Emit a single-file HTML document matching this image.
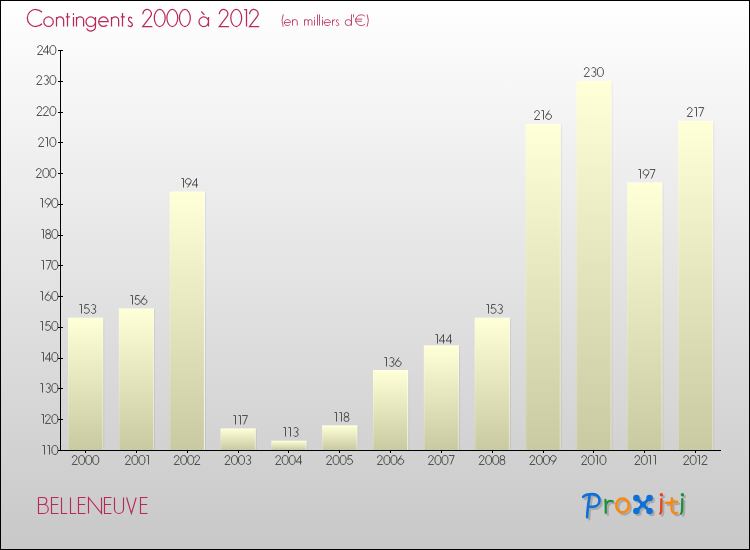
<!DOCTYPE html>
<html lang="fr"><head><meta charset="utf-8"><title>Contingents 2000 à 2012 - BELLENEUVE</title>
<style>
html,body{margin:0;padding:0;background:#fff;font-family:"Liberation Sans",sans-serif;}
.lbl{position:absolute;white-space:nowrap;line-height:1.15;color:rgba(0,0,0,0);font-family:"Liberation Sans",sans-serif;pointer-events:none}
#chart{position:relative;width:750px;height:550px;overflow:hidden;}
</style></head><body><div id="chart">
<svg width="750" height="550" viewBox="0 0 750 550" style="position:absolute;left:0;top:0">
<defs>
<linearGradient id="bg" x1="0" y1="0" x2="0" y2="1"><stop offset="0" stop-color="#ffffff"/><stop offset="1" stop-color="#c8c8c8"/></linearGradient>
<linearGradient id="bar" x1="0" y1="0" x2="0" y2="1"><stop offset="0" stop-color="#ffffd8"/><stop offset="1" stop-color="#c9c9a2"/></linearGradient>
<filter id="sh" x="-20%" y="-20%" width="150%" height="150%"><feGaussianBlur stdDeviation="0.7"/></filter>
</defs>
<rect x="0" y="0" width="750" height="550" fill="url(#bg)"/>
<rect x="103.20" y="318.69" width="1" height="131.31" fill="#000" fill-opacity="0.08"/>
<rect x="68.0" y="317.69" width="35.2" height="132.31" fill="url(#bar)"/>
<rect x="68.0" y="317.69" width="1" height="132.31" fill="#fff" fill-opacity="0.22"/>
<rect x="102.20" y="317.69" width="1" height="132.31" fill="#fff" fill-opacity="0.45"/>
<rect x="69.00" y="317.69" width="33.2" height="1" fill="#fff" fill-opacity="0.3"/>
<rect x="154.03" y="309.46" width="1" height="140.54" fill="#000" fill-opacity="0.08"/>
<rect x="118.83" y="308.46" width="35.2" height="141.54" fill="url(#bar)"/>
<rect x="118.83" y="308.46" width="1" height="141.54" fill="#fff" fill-opacity="0.22"/>
<rect x="153.03" y="308.46" width="1" height="141.54" fill="#fff" fill-opacity="0.45"/>
<rect x="119.83" y="308.46" width="33.2" height="1" fill="#fff" fill-opacity="0.3"/>
<rect x="204.87" y="192.54" width="1" height="257.46" fill="#000" fill-opacity="0.08"/>
<rect x="169.67" y="191.54" width="35.2" height="258.46" fill="url(#bar)"/>
<rect x="169.67" y="191.54" width="1" height="258.46" fill="#fff" fill-opacity="0.22"/>
<rect x="203.87" y="191.54" width="1" height="258.46" fill="#fff" fill-opacity="0.75"/>
<rect x="170.67" y="191.54" width="33.2" height="1" fill="#fff" fill-opacity="0.3"/>
<rect x="255.70" y="429.46" width="1" height="20.54" fill="#000" fill-opacity="0.08"/>
<rect x="220.5" y="428.46" width="35.2" height="21.54" fill="url(#bar)"/>
<rect x="220.5" y="428.46" width="1" height="21.54" fill="#fff" fill-opacity="0.22"/>
<rect x="254.70" y="428.46" width="1" height="21.54" fill="#fff" fill-opacity="0.45"/>
<rect x="221.50" y="428.46" width="33.2" height="1" fill="#fff" fill-opacity="0.3"/>
<rect x="306.53" y="441.77" width="1" height="8.23" fill="#000" fill-opacity="0.08"/>
<rect x="271.33" y="440.77" width="35.2" height="9.23" fill="url(#bar)"/>
<rect x="271.33" y="440.77" width="1" height="9.23" fill="#fff" fill-opacity="0.22"/>
<rect x="305.53" y="440.77" width="1" height="9.23" fill="#fff" fill-opacity="0.45"/>
<rect x="272.33" y="440.77" width="33.2" height="1" fill="#fff" fill-opacity="0.3"/>
<rect x="357.37" y="426.38" width="1" height="23.62" fill="#000" fill-opacity="0.08"/>
<rect x="322.17" y="425.38" width="35.2" height="24.62" fill="url(#bar)"/>
<rect x="322.17" y="425.38" width="1" height="24.62" fill="#fff" fill-opacity="0.22"/>
<rect x="356.37" y="425.38" width="1" height="24.62" fill="#fff" fill-opacity="0.45"/>
<rect x="323.17" y="425.38" width="33.2" height="1" fill="#fff" fill-opacity="0.3"/>
<rect x="408.20" y="371.00" width="1" height="79.00" fill="#000" fill-opacity="0.08"/>
<rect x="373.0" y="370.0" width="35.2" height="80.0" fill="url(#bar)"/>
<rect x="373.0" y="370.0" width="1" height="80.0" fill="#fff" fill-opacity="0.22"/>
<rect x="407.20" y="370.0" width="1" height="80.0" fill="#fff" fill-opacity="0.75"/>
<rect x="374.00" y="370.0" width="33.2" height="1" fill="#fff" fill-opacity="0.3"/>
<rect x="459.03" y="346.38" width="1" height="103.62" fill="#000" fill-opacity="0.08"/>
<rect x="423.83" y="345.38" width="35.2" height="104.62" fill="url(#bar)"/>
<rect x="423.83" y="345.38" width="1" height="104.62" fill="#fff" fill-opacity="0.22"/>
<rect x="458.03" y="345.38" width="1" height="104.62" fill="#fff" fill-opacity="0.45"/>
<rect x="424.83" y="345.38" width="33.2" height="1" fill="#fff" fill-opacity="0.3"/>
<rect x="509.87" y="318.69" width="1" height="131.31" fill="#000" fill-opacity="0.08"/>
<rect x="474.67" y="317.69" width="35.2" height="132.31" fill="url(#bar)"/>
<rect x="474.67" y="317.69" width="1" height="132.31" fill="#fff" fill-opacity="0.22"/>
<rect x="508.87" y="317.69" width="1" height="132.31" fill="#fff" fill-opacity="0.45"/>
<rect x="475.67" y="317.69" width="33.2" height="1" fill="#fff" fill-opacity="0.3"/>
<rect x="560.70" y="124.85" width="1" height="325.15" fill="#000" fill-opacity="0.08"/>
<rect x="525.5" y="123.85" width="35.2" height="326.15" fill="url(#bar)"/>
<rect x="525.5" y="123.85" width="1" height="326.15" fill="#fff" fill-opacity="0.22"/>
<rect x="559.70" y="123.85" width="1" height="326.15" fill="#fff" fill-opacity="0.45"/>
<rect x="526.50" y="123.85" width="33.2" height="1" fill="#fff" fill-opacity="0.3"/>
<rect x="611.53" y="81.77" width="1" height="368.23" fill="#000" fill-opacity="0.08"/>
<rect x="576.33" y="80.77" width="35.2" height="369.23" fill="url(#bar)"/>
<rect x="576.33" y="80.77" width="1" height="369.23" fill="#fff" fill-opacity="0.22"/>
<rect x="610.53" y="80.77" width="1" height="369.23" fill="#fff" fill-opacity="0.45"/>
<rect x="577.33" y="80.77" width="33.2" height="1" fill="#fff" fill-opacity="0.3"/>
<rect x="662.37" y="183.31" width="1" height="266.69" fill="#000" fill-opacity="0.08"/>
<rect x="627.17" y="182.31" width="35.2" height="267.69" fill="url(#bar)"/>
<rect x="627.17" y="182.31" width="1" height="267.69" fill="#fff" fill-opacity="0.22"/>
<rect x="661.37" y="182.31" width="1" height="267.69" fill="#fff" fill-opacity="0.45"/>
<rect x="628.17" y="182.31" width="33.2" height="1" fill="#fff" fill-opacity="0.3"/>
<rect x="713.20" y="121.77" width="1" height="328.23" fill="#000" fill-opacity="0.08"/>
<rect x="678.0" y="120.77" width="35.2" height="329.23" fill="url(#bar)"/>
<rect x="678.0" y="120.77" width="1" height="329.23" fill="#fff" fill-opacity="0.22"/>
<rect x="712.20" y="120.77" width="1" height="329.23" fill="#fff" fill-opacity="0.45"/>
<rect x="679.00" y="120.77" width="33.2" height="1" fill="#fff" fill-opacity="0.3"/>
<rect x="60" y="50" width="1" height="401" fill="#000"/>
<rect x="58" y="450" width="663" height="1" fill="#000"/>
<rect x="58" y="450" width="5" height="1" fill="#000"/>
<rect x="58" y="419" width="5" height="1" fill="#000"/>
<rect x="58" y="388" width="5" height="1" fill="#000"/>
<rect x="58" y="358" width="5" height="1" fill="#000"/>
<rect x="58" y="327" width="5" height="1" fill="#000"/>
<rect x="58" y="296" width="5" height="1" fill="#000"/>
<rect x="58" y="265" width="5" height="1" fill="#000"/>
<rect x="58" y="235" width="5" height="1" fill="#000"/>
<rect x="58" y="204" width="5" height="1" fill="#000"/>
<rect x="58" y="173" width="5" height="1" fill="#000"/>
<rect x="58" y="142" width="5" height="1" fill="#000"/>
<rect x="58" y="112" width="5" height="1" fill="#000"/>
<rect x="58" y="81" width="5" height="1" fill="#000"/>
<rect x="58" y="50" width="5" height="1" fill="#000"/>
<rect x="85" y="451" width="1" height="2" fill="#000"/>
<rect x="136" y="451" width="1" height="2" fill="#000"/>
<rect x="187" y="451" width="1" height="2" fill="#000"/>
<rect x="238" y="451" width="1" height="2" fill="#000"/>
<rect x="288" y="451" width="1" height="2" fill="#000"/>
<rect x="339" y="451" width="1" height="2" fill="#000"/>
<rect x="390" y="451" width="1" height="2" fill="#000"/>
<rect x="441" y="451" width="1" height="2" fill="#000"/>
<rect x="492" y="451" width="1" height="2" fill="#000"/>
<rect x="543" y="451" width="1" height="2" fill="#000"/>
<rect x="593" y="451" width="1" height="2" fill="#000"/>
<rect x="644" y="451" width="1" height="2" fill="#000"/>
<rect x="695" y="451" width="1" height="2" fill="#000"/>
<path fill="none" stroke="#424242" stroke-width="0.9" stroke-opacity="1" d="M 42.41,445.5 L 44.5,445.5 L 44.5,454.5 M 47.41,445.5 L 49.5,445.5 L 49.5,454.5 M 57.9,450 A 3.04,4.5 0 1 1 51.82,450 A 3.04,4.5 0 1 1 57.9,450"/>
<path fill="none" stroke="#424242" stroke-width="0.9" stroke-opacity="1" d="M 41.41,414.5 L 43.5,414.5 L 43.5,423.5 M 45.47,417.02 A 2.38,2.25 0 1 1 49.71,418.13 L 45.36,423.5 L 50.77,423.5 M 57.9,419 A 3.04,4.5 0 1 1 51.82,419 A 3.04,4.5 0 1 1 57.9,419"/>
<path fill="none" stroke="#424242" stroke-width="0.9" stroke-opacity="1" d="M 40.41,383.5 L 42.5,383.5 L 42.5,392.5 M 46.02,384.67 A 2.33,2.21 0 1 1 48.12,387.91 A 2.42,2.29 0 1 1 45.84,391.15 M 57.9,388 A 3.04,4.5 0 1 1 51.82,388 A 3.04,4.5 0 1 1 57.9,388"/>
<path fill="none" stroke="#424242" stroke-width="0.9" stroke-opacity="1" d="M 41.41,352.5 L 43.5,352.5 L 43.5,361.5 M 49.5,361.5 L 49.5,352.5 L 45.13,358.98 L 51.02,358.98 M 57.9,357 A 3.04,4.5 0 1 1 51.82,357 A 3.04,4.5 0 1 1 57.9,357"/>
<path fill="none" stroke="#424242" stroke-width="0.9" stroke-opacity="1" d="M 40.41,321.5 L 42.5,321.5 L 42.5,330.5 M 50.11,321.5 L 46.5,321.5 L 45.83,325.55 A 2.94,2.79 0 1 1 45.26,329.06 M 57.9,326 A 3.04,4.5 0 1 1 51.82,326 A 3.04,4.5 0 1 1 57.9,326"/>
<path fill="none" stroke="#424242" stroke-width="0.9" stroke-opacity="1" d="M 40.41,291.5 L 42.5,291.5 L 42.5,300.5 M 48.78,291.5 L 45.61,296.19 A 2.85,2.7 0 1 0 50.43,299.05 A 2.85,2.7 0 1 0 45.61,296.19 M 57.9,296 A 3.04,4.5 0 1 1 51.82,296 A 3.04,4.5 0 1 1 57.9,296"/>
<path fill="none" stroke="#424242" stroke-width="0.9" stroke-opacity="1" d="M 41.41,260.5 L 43.5,260.5 L 43.5,269.5 M 45.84,260.5 L 51.16,260.5 L 47.55,269.5 M 57.9,265 A 3.04,4.5 0 1 1 51.82,265 A 3.04,4.5 0 1 1 57.9,265"/>
<path fill="none" stroke="#424242" stroke-width="0.9" stroke-opacity="1" d="M 41.41,229.5 L 43.5,229.5 L 43.5,238.5 M 50.3,231.66 A 2.19,2.07 0 1 1 45.93,231.66 A 2.19,2.07 0 1 1 50.3,231.66 M 50.63,236.12 A 2.52,2.38 0 1 1 45.6,236.12 A 2.52,2.38 0 1 1 50.63,236.12 M 57.9,234 A 3.04,4.5 0 1 1 51.82,234 A 3.04,4.5 0 1 1 57.9,234"/>
<path fill="none" stroke="#424242" stroke-width="0.9" stroke-opacity="1" d="M 40.41,198.5 L 42.5,198.5 L 42.5,207.5 M 47.26,207.5 L 50.43,202.81 A 2.85,2.7 0 1 0 45.61,199.95 A 2.85,2.7 0 1 0 50.43,202.81 M 57.9,203 A 3.04,4.5 0 1 1 51.82,203 A 3.04,4.5 0 1 1 57.9,203"/>
<path fill="none" stroke="#424242" stroke-width="0.9" stroke-opacity="1" d="M 36.44,171.02 A 2.38,2.25 0 1 1 40.68,172.13 L 36.33,177.5 L 41.74,177.5 M 48.87,173 A 3.04,4.5 0 1 1 42.79,173 A 3.04,4.5 0 1 1 48.87,173 M 55.9,173 A 3.04,4.5 0 1 1 49.82,173 A 3.04,4.5 0 1 1 55.9,173"/>
<path fill="none" stroke="#424242" stroke-width="0.9" stroke-opacity="1" d="M 38.72,140.02 A 2.38,2.25 0 1 1 42.96,141.13 L 38.61,146.5 L 44.02,146.5 M 45.41,137.5 L 47.5,137.5 L 47.5,146.5 M 55.9,142 A 3.04,4.5 0 1 1 49.82,142 A 3.04,4.5 0 1 1 55.9,142"/>
<path fill="none" stroke="#424242" stroke-width="0.9" stroke-opacity="1" d="M 37.01,109.02 A 2.38,2.25 0 1 1 41.25,110.13 L 36.9,115.5 L 42.31,115.5 M 43.47,109.02 A 2.38,2.25 0 1 1 47.71,110.13 L 43.36,115.5 L 48.77,115.5 M 55.9,111 A 3.04,4.5 0 1 1 49.82,111 A 3.04,4.5 0 1 1 55.9,111"/>
<path fill="none" stroke="#424242" stroke-width="0.9" stroke-opacity="1" d="M 36.82,78.02 A 2.38,2.25 0 1 1 41.06,79.13 L 36.71,84.5 L 42.12,84.5 M 44.02,76.67 A 2.33,2.21 0 1 1 46.11,79.91 A 2.42,2.29 0 1 1 43.83,83.15 M 55.9,80 A 3.04,4.5 0 1 1 49.82,80 A 3.04,4.5 0 1 1 55.9,80"/>
<path fill="none" stroke="#424242" stroke-width="0.9" stroke-opacity="1" d="M 37.68,48.02 A 2.38,2.25 0 1 1 41.92,49.13 L 37.56,54.5 L 42.98,54.5 M 47.5,54.5 L 47.5,45.5 L 43.13,51.98 L 49.02,51.98 M 55.9,50 A 3.04,4.5 0 1 1 49.82,50 A 3.04,4.5 0 1 1 55.9,50"/>
<path fill="none" stroke="#424242" stroke-width="0.9" stroke-opacity="1" d="M 72.31,458.02 A 2.38,2.25 0 1 1 76.55,459.13 L 72.2,464.5 L 77.62,464.5 M 84.74,460 A 3.04,4.5 0 1 1 78.66,460 A 3.04,4.5 0 1 1 84.74,460 M 91.77,460 A 3.04,4.5 0 1 1 85.69,460 A 3.04,4.5 0 1 1 91.77,460 M 98.8,460 A 3.04,4.5 0 1 1 92.72,460 A 3.04,4.5 0 1 1 98.8,460"/>
<path fill="none" stroke="#424242" stroke-width="0.9" stroke-opacity="1" d="M 79.41,304.5 L 81.5,304.5 L 81.5,313.5 M 88.8,304.5 L 85.19,304.5 L 84.52,308.55 A 2.94,2.79 0 1 1 83.95,312.06 M 91.36,305.67 A 2.33,2.21 0 1 1 93.45,308.91 A 2.42,2.29 0 1 1 91.17,312.15"/>
<path fill="none" stroke="#424242" stroke-width="0.9" stroke-opacity="1" d="M 125.5,458.02 A 2.38,2.25 0 1 1 129.74,459.13 L 125.39,464.5 L 130.81,464.5 M 137.93,460 A 3.04,4.5 0 1 1 131.85,460 A 3.04,4.5 0 1 1 137.93,460 M 144.96,460 A 3.04,4.5 0 1 1 138.88,460 A 3.04,4.5 0 1 1 144.96,460 M 146.41,455.5 L 148.5,455.5 L 148.5,464.5"/>
<path fill="none" stroke="#424242" stroke-width="0.9" stroke-opacity="1" d="M 130.41,295.5 L 132.5,295.5 L 132.5,304.5 M 139.54,295.5 L 135.93,295.5 L 135.26,299.55 A 2.94,2.79 0 1 1 134.69,303.06 M 144.86,295.5 L 141.68,300.19 A 2.85,2.7 0 1 0 146.51,303.05 A 2.85,2.7 0 1 0 141.68,300.19"/>
<path fill="none" stroke="#424242" stroke-width="0.9" stroke-opacity="1" d="M 174.31,458.02 A 2.38,2.25 0 1 1 178.55,459.13 L 174.2,464.5 L 179.61,464.5 M 186.74,460 A 3.04,4.5 0 1 1 180.66,460 A 3.04,4.5 0 1 1 186.74,460 M 193.77,460 A 3.04,4.5 0 1 1 187.69,460 A 3.04,4.5 0 1 1 193.77,460 M 194.83,458.02 A 2.38,2.25 0 1 1 199.07,459.13 L 194.72,464.5 L 200.13,464.5"/>
<path fill="none" stroke="#424242" stroke-width="0.9" stroke-opacity="1" d="M 181.41,178.5 L 183.5,178.5 L 183.5,187.5 M 187.47,187.5 L 190.64,182.81 A 2.85,2.7 0 1 0 185.82,179.95 A 2.85,2.7 0 1 0 190.64,182.81 M 196.5,187.5 L 196.5,178.5 L 192.13,184.98 L 198.02,184.98"/>
<path fill="none" stroke="#424242" stroke-width="0.9" stroke-opacity="1" d="M 225.1,458.02 A 2.38,2.25 0 1 1 229.34,459.13 L 224.99,464.5 L 230.4,464.5 M 237.53,460 A 3.04,4.5 0 1 1 231.45,460 A 3.04,4.5 0 1 1 237.53,460 M 244.56,460 A 3.04,4.5 0 1 1 238.48,460 A 3.04,4.5 0 1 1 244.56,460 M 246.36,456.67 A 2.33,2.21 0 1 1 248.45,459.91 A 2.42,2.29 0 1 1 246.17,463.15"/>
<path fill="none" stroke="#424242" stroke-width="0.9" stroke-opacity="1" d="M 233.41,415.5 L 235.5,415.5 L 235.5,424.5 M 238.41,415.5 L 240.5,415.5 L 240.5,424.5 M 242.11,415.5 L 247.43,415.5 L 243.82,424.5"/>
<path fill="none" stroke="#424242" stroke-width="0.9" stroke-opacity="1" d="M 275.79,458.02 A 2.38,2.25 0 1 1 280.03,459.13 L 275.68,464.5 L 281.09,464.5 M 288.22,460 A 3.04,4.5 0 1 1 282.14,460 A 3.04,4.5 0 1 1 288.22,460 M 295.25,460 A 3.04,4.5 0 1 1 289.17,460 A 3.04,4.5 0 1 1 295.25,460 M 300.5,464.5 L 300.5,455.5 L 296.13,461.98 L 302.02,461.98"/>
<path fill="none" stroke="#424242" stroke-width="0.9" stroke-opacity="1" d="M 283.41,427.5 L 285.5,427.5 L 285.5,436.5 M 288.41,427.5 L 290.5,427.5 L 290.5,436.5 M 293.75,428.67 A 2.33,2.21 0 1 1 295.84,431.91 A 2.42,2.29 0 1 1 293.56,435.15"/>
<path fill="none" stroke="#424242" stroke-width="0.9" stroke-opacity="1" d="M 326.67,458.02 A 2.38,2.25 0 1 1 330.91,459.13 L 326.56,464.5 L 331.97,464.5 M 339.1,460 A 3.04,4.5 0 1 1 333.02,460 A 3.04,4.5 0 1 1 339.1,460 M 346.13,460 A 3.04,4.5 0 1 1 340.05,460 A 3.04,4.5 0 1 1 346.13,460 M 352.02,455.5 L 348.41,455.5 L 347.74,459.55 A 2.94,2.79 0 1 1 347.17,463.06"/>
<path fill="none" stroke="#424242" stroke-width="0.9" stroke-opacity="1" d="M 334.41,412.5 L 336.5,412.5 L 336.5,421.5 M 339.41,412.5 L 341.5,412.5 L 341.5,421.5 M 348.66,414.66 A 2.19,2.07 0 1 1 344.29,414.66 A 2.19,2.07 0 1 1 348.66,414.66 M 349,419.12 A 2.52,2.38 0 1 1 343.96,419.12 A 2.52,2.38 0 1 1 349,419.12"/>
<path fill="none" stroke="#424242" stroke-width="0.9" stroke-opacity="1" d="M 377.5,458.02 A 2.38,2.25 0 1 1 381.74,459.13 L 377.39,464.5 L 382.81,464.5 M 389.93,460 A 3.04,4.5 0 1 1 383.85,460 A 3.04,4.5 0 1 1 389.93,460 M 396.96,460 A 3.04,4.5 0 1 1 390.88,460 A 3.04,4.5 0 1 1 396.96,460 M 401.52,455.5 L 398.35,460.19 A 2.85,2.7 0 1 0 403.17,463.05 A 2.85,2.7 0 1 0 398.35,460.19"/>
<path fill="none" stroke="#424242" stroke-width="0.9" stroke-opacity="1" d="M 384.41,357.5 L 386.5,357.5 L 386.5,366.5 M 389.62,358.67 A 2.33,2.21 0 1 1 391.71,361.91 A 2.42,2.29 0 1 1 389.43,365.15 M 399.02,357.5 L 395.85,362.19 A 2.85,2.7 0 1 0 400.68,365.05 A 2.85,2.7 0 1 0 395.85,362.19"/>
<path fill="none" stroke="#424242" stroke-width="0.9" stroke-opacity="1" d="M 428.57,458.02 A 2.38,2.25 0 1 1 432.81,459.13 L 428.46,464.5 L 433.88,464.5 M 441,460 A 3.04,4.5 0 1 1 434.92,460 A 3.04,4.5 0 1 1 441,460 M 448.03,460 A 3.04,4.5 0 1 1 441.95,460 A 3.04,4.5 0 1 1 448.03,460 M 448.89,455.5 L 454.21,455.5 L 450.6,464.5"/>
<path fill="none" stroke="#424242" stroke-width="0.9" stroke-opacity="1" d="M 435.41,334.5 L 437.5,334.5 L 437.5,343.5 M 443.5,343.5 L 443.5,334.5 L 439.13,340.98 L 445.02,340.98 M 450.5,343.5 L 450.5,334.5 L 446.13,340.98 L 452.02,340.98"/>
<path fill="none" stroke="#424242" stroke-width="0.9" stroke-opacity="1" d="M 479.27,458.02 A 2.38,2.25 0 1 1 483.5,459.13 L 479.15,464.5 L 484.57,464.5 M 491.69,460 A 3.04,4.5 0 1 1 485.61,460 A 3.04,4.5 0 1 1 491.69,460 M 498.72,460 A 3.04,4.5 0 1 1 492.64,460 A 3.04,4.5 0 1 1 498.72,460 M 504.61,457.66 A 2.19,2.07 0 1 1 500.24,457.66 A 2.19,2.07 0 1 1 504.61,457.66 M 504.94,462.12 A 2.52,2.38 0 1 1 499.91,462.12 A 2.52,2.38 0 1 1 504.94,462.12"/>
<path fill="none" stroke="#424242" stroke-width="0.9" stroke-opacity="1" d="M 486.41,304.5 L 488.5,304.5 L 488.5,313.5 M 495.46,304.5 L 491.85,304.5 L 491.19,308.55 A 2.94,2.79 0 1 1 490.62,312.06 M 498.03,305.67 A 2.33,2.21 0 1 1 500.12,308.91 A 2.42,2.29 0 1 1 497.84,312.15"/>
<path fill="none" stroke="#424242" stroke-width="0.9" stroke-opacity="1" d="M 530,458.02 A 2.38,2.25 0 1 1 534.24,459.13 L 529.89,464.5 L 535.3,464.5 M 542.43,460 A 3.04,4.5 0 1 1 536.35,460 A 3.04,4.5 0 1 1 542.43,460 M 549.46,460 A 3.04,4.5 0 1 1 543.38,460 A 3.04,4.5 0 1 1 549.46,460 M 552.5,464.5 L 555.67,459.81 A 2.85,2.7 0 1 0 550.85,456.95 A 2.85,2.7 0 1 0 555.67,459.81"/>
<path fill="none" stroke="#424242" stroke-width="0.9" stroke-opacity="1" d="M 534.66,113.02 A 2.38,2.25 0 1 1 538.9,114.13 L 534.54,119.5 L 539.96,119.5 M 541.41,110.5 L 543.5,110.5 L 543.5,119.5 M 549.37,110.5 L 546.19,115.19 A 2.85,2.7 0 1 0 551.02,118.05 A 2.85,2.7 0 1 0 546.19,115.19"/>
<path fill="none" stroke="#424242" stroke-width="0.9" stroke-opacity="1" d="M 581.79,458.02 A 2.38,2.25 0 1 1 586.02,459.13 L 581.67,464.5 L 587.09,464.5 M 594.21,460 A 3.04,4.5 0 1 1 588.13,460 A 3.04,4.5 0 1 1 594.21,460 M 595.41,455.5 L 597.5,455.5 L 597.5,464.5 M 605.99,460 A 3.04,4.5 0 1 1 599.91,460 A 3.04,4.5 0 1 1 605.99,460"/>
<path fill="none" stroke="#424242" stroke-width="0.9" stroke-opacity="1" d="M 584.35,70.02 A 2.38,2.25 0 1 1 588.59,71.13 L 584.24,76.5 L 589.65,76.5 M 591.55,68.67 A 2.33,2.21 0 1 1 593.64,71.91 A 2.42,2.29 0 1 1 591.36,75.15 M 603.43,72 A 3.04,4.5 0 1 1 597.35,72 A 3.04,4.5 0 1 1 603.43,72"/>
<path fill="none" stroke="#424242" stroke-width="0.9" stroke-opacity="1" d="M 634.98,458.02 A 2.38,2.25 0 1 1 639.22,459.13 L 634.86,464.5 L 640.28,464.5 M 647.4,460 A 3.04,4.5 0 1 1 641.32,460 A 3.04,4.5 0 1 1 647.4,460 M 648.41,455.5 L 650.5,455.5 L 650.5,464.5 M 653.41,455.5 L 655.5,455.5 L 655.5,464.5"/>
<path fill="none" stroke="#424242" stroke-width="0.9" stroke-opacity="1" d="M 638.41,169.5 L 640.5,169.5 L 640.5,178.5 M 645.26,178.5 L 648.43,173.81 A 2.85,2.7 0 1 0 643.6,170.95 A 2.85,2.7 0 1 0 648.43,173.81 M 649.72,169.5 L 655.04,169.5 L 651.43,178.5"/>
<path fill="none" stroke="#424242" stroke-width="0.9" stroke-opacity="1" d="M 683.79,458.02 A 2.38,2.25 0 1 1 688.02,459.13 L 683.67,464.5 L 689.09,464.5 M 696.21,460 A 3.04,4.5 0 1 1 690.13,460 A 3.04,4.5 0 1 1 696.21,460 M 697.41,455.5 L 699.5,455.5 L 699.5,464.5 M 702.03,458.02 A 2.38,2.25 0 1 1 706.26,459.13 L 701.91,464.5 L 707.33,464.5"/>
<path fill="none" stroke="#424242" stroke-width="0.9" stroke-opacity="1" d="M 687.4,110.02 A 2.38,2.25 0 1 1 691.63,111.13 L 687.28,116.5 L 692.7,116.5 M 694.41,107.5 L 696.5,107.5 L 696.5,116.5 M 698.4,107.5 L 703.72,107.5 L 700.11,116.5"/>
<path fill="none" stroke="#b9285b" stroke-width="1.25" stroke-opacity="1" d="M 42.02,12.2 A 8.5,8.5 0 1 0 42.02,23.8 M 53.31,21.74 A 4.76,4.76 0 1 1 43.79,21.74 A 4.76,4.76 0 1 1 53.31,21.74 M 56.5,26.5 L 56.5,16.98 M 56.5,20.55 A 3.57,3.57 0 0 1 63.64,20.55 L 63.64,26.5 M 67.5,12.9 L 67.5,26.5 M 65.8,16.98 L 69.88,16.98 M 73.5,16.98 L 73.5,26.5 M 73.5,13.24 L 73.5,14.94 M 76.5,26.5 L 76.5,16.98 M 76.5,20.55 A 3.57,3.57 0 0 1 83.64,20.55 L 83.64,26.5 M 95.5,21.74 A 4.76,4.76 0 1 1 85.98,21.74 A 4.76,4.76 0 1 1 95.5,21.74 M 95.5,16.98 L 95.5,26.5 A 4.76,4.42 0 0 1 86.49,28.54 M 98.7,21.74 L 108.22,21.74 A 4.76,4.76 0 1 0 107.1,24.8 M 111.5,26.5 L 111.5,16.98 M 111.5,20.55 A 3.57,3.57 0 0 1 118.64,20.55 L 118.64,26.5 M 122.5,12.9 L 122.5,26.5 M 120.8,16.98 L 124.88,16.98 M 132.02,18.51 C 131.51,17.49 130.83,17.15 130.15,17.15 C 129.13,17.15 128.53,18.34 128.53,19.45 C 128.53,20.72 129.47,21.4 130.23,21.91 C 131.17,22.42 132.36,23.1 132.36,24.38 C 132.36,25.65 131.34,26.5 130.15,26.5 C 129.13,26.5 128.28,25.99 127.94,25.14 M 142.93,14.26 A 4.25,4.25 0 1 1 150.52,16.35 L 142.73,26.5 L 152.42,26.5 M 165.17,18 A 5.44,8.5 0 1 1 154.29,18 A 5.44,8.5 0 1 1 165.17,18 M 177.75,18 A 5.44,8.5 0 1 1 166.87,18 A 5.44,8.5 0 1 1 177.75,18 M 190.33,18 A 5.44,8.5 0 1 1 179.45,18 A 5.44,8.5 0 1 1 190.33,18 M 208.5,21.74 A 4.76,4.76 0 1 1 198.98,21.74 A 4.76,4.76 0 1 1 208.5,21.74 M 208.5,16.98 L 208.5,26.5 M 201.36,11.54 L 204.42,14.94 M 219.43,14.26 A 4.25,4.25 0 1 1 227.02,16.35 L 219.23,26.5 L 228.92,26.5 M 241.67,18 A 5.44,8.5 0 1 1 230.79,18 A 5.44,8.5 0 1 1 241.67,18 M 244.12,9.5 L 246.5,9.5 L 246.5,26.5 M 249.69,14.26 A 4.25,4.25 0 1 1 257.28,16.35 L 249.49,26.5 L 259.18,26.5"/>
<path fill="none" stroke="#b9285b" stroke-width="0.95" stroke-opacity="0.88" d="M 283.26,14.37 Q 280.76,20.42 283.26,26.68 M 284.28,22.58 L 290.64,22.58 A 3.18,3.02 0 1 0 289.89,24.52 M 292.5,25.6 L 292.5,19.55 M 292.5,21.82 A 2.38,2.27 0 0 1 297.27,21.82 L 297.27,25.6 M 304.5,25.6 L 304.5,19.55 M 304.5,21.39 A 1.87,1.84 0 0 1 308.25,21.39 L 308.25,25.6 M 308.25,21.39 A 1.87,1.84 0 0 1 311.99,21.39 L 311.99,25.6 M 314.5,19.55 L 314.5,25.6 M 314.5,17.18 L 314.5,18.26 M 317.5,14.37 L 317.5,25.6 M 319.5,14.37 L 319.5,25.6 M 322.5,19.55 L 322.5,25.6 M 322.5,17.18 L 322.5,18.26 M 324.12,22.58 L 330.48,22.58 A 3.18,3.02 0 1 0 329.73,24.52 M 332.5,25.6 L 332.5,19.55 M 332.5,22.14 Q 332.73,19.77 335.22,19.66 M 338.65,20.52 C 338.31,19.88 337.86,19.66 337.4,19.66 C 336.72,19.66 336.32,20.42 336.32,21.12 C 336.32,21.93 336.95,22.36 337.46,22.68 C 338.08,23.01 338.88,23.44 338.88,24.25 C 338.88,25.06 338.2,25.6 337.4,25.6 C 336.72,25.6 336.15,25.28 335.93,24.74 M 351.5,22.58 A 3.18,3.02 0 1 1 345.14,22.58 A 3.18,3.02 0 1 1 351.5,22.58 M 351.5,14.37 L 351.5,25.6 M 353.5,14.37 L 353.5,17.39 M 365.1,16.31 A 5.56,5.4 0 1 0 365.1,24.09 M 355.11,19.12 L 362.37,19.12 M 355.11,21.28 L 361.92,21.28 M 367.14,14.37 Q 369.64,20.42 367.14,26.68"/>
<path fill="none" stroke="#b9285b" stroke-width="1.15" stroke-opacity="1" d="M 38.5,497.5 L 38.5,513.5 L 43.78,513.5 A 4.48,4.48 0 0 0 43.78,504.54 L 38.5,504.54 M 43.3,504.54 A 3.52,3.52 0 0 0 43.3,497.5 L 38.5,497.5 M 58.54,497.5 L 51.5,497.5 L 51.5,513.5 L 58.54,513.5 M 51.5,504.54 L 58.06,504.54 M 61.5,497.5 L 61.5,513.5 L 67.26,513.5 M 70.5,497.5 L 70.5,513.5 L 76.26,513.5 M 85.54,497.5 L 78.5,497.5 L 78.5,513.5 L 85.54,513.5 M 78.5,504.54 L 85.06,504.54 M 88.5,513.5 L 88.5,497.5 L 101.5,513.5 L 101.5,497.5 M 111.54,497.5 L 104.5,497.5 L 104.5,513.5 L 111.54,513.5 M 104.5,504.54 L 111.06,504.54 M 114.5,497.5 L 114.5,509.02 A 4.5,4.48 0 0 0 123.5,509.02 L 123.5,497.5 M 126.6,497.5 L 131.4,513.5 L 136.2,497.5 M 147.54,497.5 L 140.5,497.5 L 140.5,513.5 L 147.54,513.5 M 140.5,504.54 L 147.06,504.54"/>
<g opacity="0.17" filter="url(#sh)"><g transform="translate(2,2)" fill="none" stroke-linecap="round" stroke-linejoin="round" stroke-width="2.65"><path stroke="#000" d="M587.1,517.2 C587.5,510 588.5,502 589.7,495 M583.2,496.8 C585,494.8 589,494.1 592.5,494.1 C597,494.1 599.6,497 599.5,500.5 C599.4,504.4 596.5,506.7 593,506.7 L590.4,506.8"/><path stroke="#000" stroke-width="2.2" d="M605.4,499.8 C605.8,504 605.8,509 605.8,513 M606,504.5 C607,501.5 610,499.8 612.8,501.4"/><ellipse stroke="#000" stroke-width="2.5" cx="622.5" cy="505.4" rx="6.2" ry="7.0"/><path stroke="#000" stroke-width="3.0" d="M636.4,498 L649.6,511 M649.6,498 L636.4,511"/><circle cx="636.4" cy="498" r="3.3" fill="#000" stroke="none"/><circle cx="649.6" cy="498" r="3.3" fill="#000" stroke="none"/><circle cx="636.4" cy="511" r="3.3" fill="#000" stroke="none"/><circle cx="649.6" cy="511" r="3.3" fill="#000" stroke="none"/><circle cx="643" cy="504.5" r="2.9" fill="#000" stroke="none"/><path stroke="#000" stroke-width="2.3" d="M661.4,499.2 L661.2,510.6 Q661.1,512.8 660.2,513.6"/><circle cx="661.4" cy="494.7" r="1.7" fill="#000" stroke="none"/><path stroke="#000" stroke-width="2.3" d="M671.9,498.2 C671.5,503 671,508 672,511 C673,513.4 675.5,513.6 677,512.8 M666,503 L677.2,501.7"/><path stroke="#000" stroke-width="2.3" d="M682.3,499.2 L682,510.8 Q681.8,513 681,513.8"/><circle cx="682.4" cy="494.7" r="1.7" fill="#000" stroke="none"/></g></g>
<g transform="translate(0,0)" fill="none" stroke-linecap="round" stroke-linejoin="round" stroke-width="2.65"><path stroke="#0e70d6" d="M587.1,517.2 C587.5,510 588.5,502 589.7,495 M583.2,496.8 C585,494.8 589,494.1 592.5,494.1 C597,494.1 599.6,497 599.5,500.5 C599.4,504.4 596.5,506.7 593,506.7 L590.4,506.8"/><path stroke="#1b8f3a" stroke-width="2.2" d="M605.4,499.8 C605.8,504 605.8,509 605.8,513 M606,504.5 C607,501.5 610,499.8 612.8,501.4"/><ellipse stroke="#f8880f" stroke-width="2.5" cx="622.5" cy="505.4" rx="6.2" ry="7.0"/><path stroke="#0e70d6" stroke-width="3.0" d="M636.4,498 L649.6,511 M649.6,498 L636.4,511"/><circle cx="636.4" cy="498" r="3.3" fill="#0e70d6" stroke="none"/><circle cx="649.6" cy="498" r="3.3" fill="#0e70d6" stroke="none"/><circle cx="636.4" cy="511" r="3.3" fill="#0e70d6" stroke="none"/><circle cx="649.6" cy="511" r="3.3" fill="#0e70d6" stroke="none"/><circle cx="643" cy="504.5" r="2.9" fill="#0e70d6" stroke="none"/><path stroke="#e8401a" stroke-width="2.3" d="M661.4,499.2 L661.2,510.6 Q661.1,512.8 660.2,513.6"/><circle cx="661.4" cy="494.7" r="1.7" fill="#e8401a" stroke="none"/><path stroke="#f8880f" stroke-width="2.3" d="M671.9,498.2 C671.5,503 671,508 672,511 C673,513.4 675.5,513.6 677,512.8 M666,503 L677.2,501.7"/><path stroke="#1b8f3a" stroke-width="2.3" d="M682.3,499.2 L682,510.8 Q681.8,513 681,513.8"/><circle cx="682.4" cy="494.7" r="1.7" fill="#1b8f3a" stroke="none"/></g>
<rect x="0.5" y="0.5" width="749" height="549" fill="none" stroke="#000" stroke-width="1"/>
</svg>
<div id="labels"><div class="lbl h1" style="left:27px;top:6px;font-size:24px;">Contingents 2000 à 2012</div>
<div class="lbl sub" style="left:282px;top:12px;font-size:13px;">(en milliers d'€)</div>
<div class="lbl" style="left:20px;top:443px;font-size:12px;width:37px;text-align:right;">110</div>
<div class="lbl" style="left:20px;top:412px;font-size:12px;width:37px;text-align:right;">120</div>
<div class="lbl" style="left:20px;top:381px;font-size:12px;width:37px;text-align:right;">130</div>
<div class="lbl" style="left:20px;top:351px;font-size:12px;width:37px;text-align:right;">140</div>
<div class="lbl" style="left:20px;top:320px;font-size:12px;width:37px;text-align:right;">150</div>
<div class="lbl" style="left:20px;top:289px;font-size:12px;width:37px;text-align:right;">160</div>
<div class="lbl" style="left:20px;top:258px;font-size:12px;width:37px;text-align:right;">170</div>
<div class="lbl" style="left:20px;top:228px;font-size:12px;width:37px;text-align:right;">180</div>
<div class="lbl" style="left:20px;top:197px;font-size:12px;width:37px;text-align:right;">190</div>
<div class="lbl" style="left:20px;top:166px;font-size:12px;width:37px;text-align:right;">200</div>
<div class="lbl" style="left:20px;top:135px;font-size:12px;width:37px;text-align:right;">210</div>
<div class="lbl" style="left:20px;top:105px;font-size:12px;width:37px;text-align:right;">220</div>
<div class="lbl" style="left:20px;top:74px;font-size:12px;width:37px;text-align:right;">230</div>
<div class="lbl" style="left:20px;top:43px;font-size:12px;width:37px;text-align:right;">240</div>
<div class="lbl" style="left:66px;top:302px;font-size:12px;width:40px;text-align:center;">153</div>
<div class="lbl" style="left:66px;top:453px;font-size:12px;width:40px;text-align:center;">2000</div>
<div class="lbl" style="left:116px;top:292px;font-size:12px;width:40px;text-align:center;">156</div>
<div class="lbl" style="left:116px;top:453px;font-size:12px;width:40px;text-align:center;">2001</div>
<div class="lbl" style="left:167px;top:176px;font-size:12px;width:40px;text-align:center;">194</div>
<div class="lbl" style="left:167px;top:453px;font-size:12px;width:40px;text-align:center;">2002</div>
<div class="lbl" style="left:218px;top:412px;font-size:12px;width:40px;text-align:center;">117</div>
<div class="lbl" style="left:218px;top:453px;font-size:12px;width:40px;text-align:center;">2003</div>
<div class="lbl" style="left:269px;top:425px;font-size:12px;width:40px;text-align:center;">113</div>
<div class="lbl" style="left:269px;top:453px;font-size:12px;width:40px;text-align:center;">2004</div>
<div class="lbl" style="left:320px;top:409px;font-size:12px;width:40px;text-align:center;">118</div>
<div class="lbl" style="left:320px;top:453px;font-size:12px;width:40px;text-align:center;">2005</div>
<div class="lbl" style="left:370px;top:354px;font-size:12px;width:40px;text-align:center;">136</div>
<div class="lbl" style="left:370px;top:453px;font-size:12px;width:40px;text-align:center;">2006</div>
<div class="lbl" style="left:421px;top:329px;font-size:12px;width:40px;text-align:center;">144</div>
<div class="lbl" style="left:421px;top:453px;font-size:12px;width:40px;text-align:center;">2007</div>
<div class="lbl" style="left:472px;top:302px;font-size:12px;width:40px;text-align:center;">153</div>
<div class="lbl" style="left:472px;top:453px;font-size:12px;width:40px;text-align:center;">2008</div>
<div class="lbl" style="left:523px;top:108px;font-size:12px;width:40px;text-align:center;">216</div>
<div class="lbl" style="left:523px;top:453px;font-size:12px;width:40px;text-align:center;">2009</div>
<div class="lbl" style="left:574px;top:65px;font-size:12px;width:40px;text-align:center;">230</div>
<div class="lbl" style="left:574px;top:453px;font-size:12px;width:40px;text-align:center;">2010</div>
<div class="lbl" style="left:625px;top:166px;font-size:12px;width:40px;text-align:center;">197</div>
<div class="lbl" style="left:625px;top:453px;font-size:12px;width:40px;text-align:center;">2011</div>
<div class="lbl" style="left:676px;top:105px;font-size:12px;width:40px;text-align:center;">217</div>
<div class="lbl" style="left:676px;top:453px;font-size:12px;width:40px;text-align:center;">2012</div>
<div class="lbl h1" style="left:37px;top:494px;font-size:22px;">BELLENEUVE</div>
<div class="lbl logo" style="left:583px;top:490px;font-size:26px;">Proxiti</div></div>
</div></body></html>
